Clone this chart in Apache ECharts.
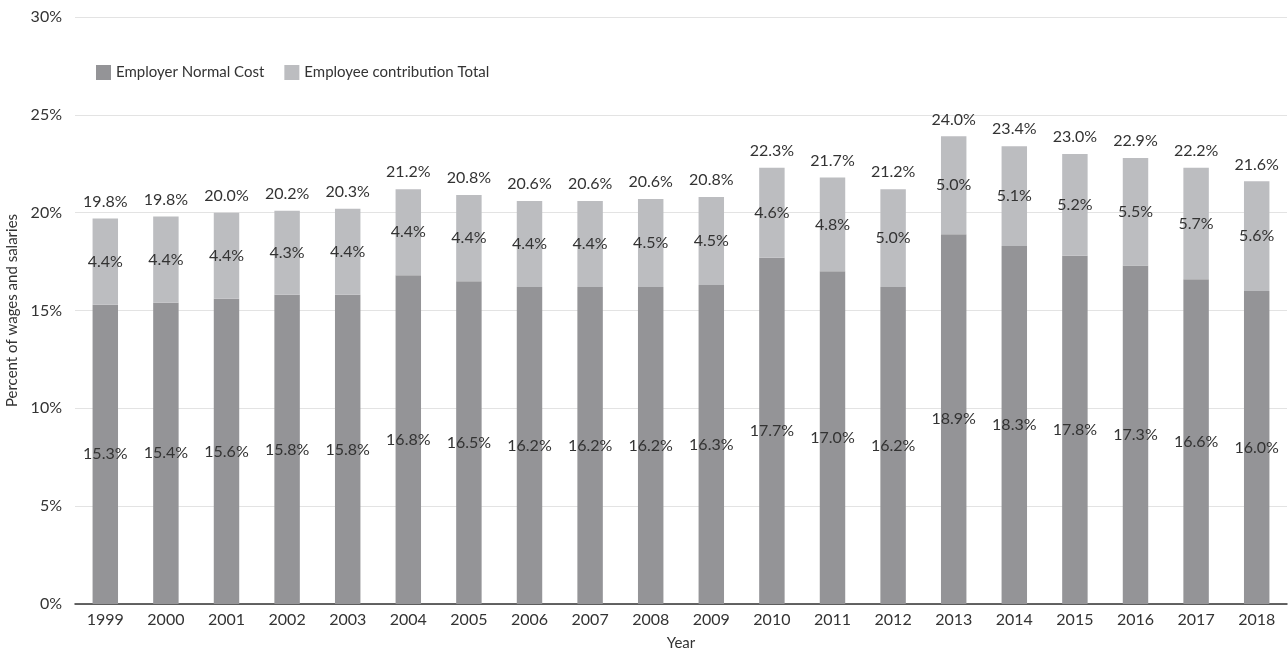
<!DOCTYPE html>
<html>
<head>
<meta charset="utf-8">
<script src="https://cdn.jsdelivr.net/npm/echarts@6/dist/echarts.min.js"></script>
<style>
html,body{margin:0;padding:0;background:#fff;}
#chart{width:1288px;height:652px;}
</style>
</head>
<body>
<div id="chart"></div>
<script>
// Contribution rates as percent of wages and salaries
const years = ['1999','2000','2001','2002','2003','2004','2005','2006','2007','2008','2009','2010','2011','2012','2013','2014','2015','2016','2017','2018'];
const employerNormalCost = [15.3,15.4,15.6,15.8,15.8,16.8,16.5,16.2,16.2,16.2,16.3,17.7,17.0,16.2,18.9,18.3,17.8,17.3,16.6,16.0];
const employeeContribution = [4.4,4.4,4.4,4.3,4.4,4.4,4.4,4.4,4.4,4.5,4.5,4.6,4.8,5.0,5.0,5.1,5.2,5.5,5.7,5.6];
const totals = [19.8,19.8,20.0,20.2,20.3,21.2,20.8,20.6,20.6,20.6,20.8,22.3,21.7,21.2,24.0,23.4,23.0,22.9,22.2,21.6];
const yTicks = [0,5,10,15,20,25,30];

const FONT = 'Lato';
const chart = echarts.init(document.getElementById('chart'), null, {renderer:'canvas'});
chart.setOption({
  animation:false,
  textStyle:{fontFamily:FONT},
  legend:{
    left:91, top:60, itemWidth:15, itemHeight:15, itemGap:20,
    icon:'rect',
    textStyle:{fontFamily:FONT, fontSize:15, color:'#333'},
    data:['Employer Normal Cost','Employee contribution Total']
  },
  grid:{left:75, right:1, top:17, bottom:48, containLabel:false, outerBoundsMode:'none'},
  xAxis:{
    type:'category', data:years,
    name:'Year', nameLocation:'middle', nameGap:32,
    nameTextStyle:{fontFamily:FONT, fontSize:15, color:'#333'},
    axisLine:{lineStyle:{color:'#333', width:1.5}},
    axisTick:{show:false},
    axisLabel:{fontFamily:FONT, fontSize:16, color:'#333', margin:8}
  },
  yAxis:{
    type:'value', min:yTicks[0], max:yTicks[yTicks.length-1], interval:5,
    name:'Percent of wages and salaries', nameLocation:'middle', nameGap:52,
    nameTextStyle:{fontFamily:FONT, fontSize:15, color:'#333'},
    axisLine:{show:false}, axisTick:{show:false},
    axisLabel:{fontFamily:FONT, fontSize:16, color:'#333', margin:13, formatter:v=>v+'%'},
    splitLine:{lineStyle:{color:'#e3e3e3'}}
  },
  series:[
    {
      name:'Employer Normal Cost', type:'bar', stack:'total', barWidth:'42%',
      data:employerNormalCost,
      itemStyle:{color:'#949497'},
      label:{show:true, position:'inside', fontFamily:FONT, fontSize:16, color:'#333',
        formatter:p=>p.value.toFixed(1)+'%'}
    },
    {
      name:'Employee contribution Total', type:'bar', stack:'total', barWidth:'42%',
      data:employeeContribution,
      itemStyle:{color:'#bcbdc0'},
      label:{show:true, position:'inside', fontFamily:FONT, fontSize:16, color:'#333',
        formatter:p=>p.value.toFixed(1)+'%'}
    },
    {
      // total labels above each stack
      name:'Total', type:'bar', stack:'total', barWidth:'42%',
      data:totals.map(()=>0),
      itemStyle:{color:'transparent'},
      label:{show:true, position:'top', distance:9, fontFamily:FONT, fontSize:16, color:'#333',
        formatter:p=>totals[p.dataIndex].toFixed(1)+'%'},
      tooltip:{show:false}
    }
  ]
});
</script>
</body>
</html>
